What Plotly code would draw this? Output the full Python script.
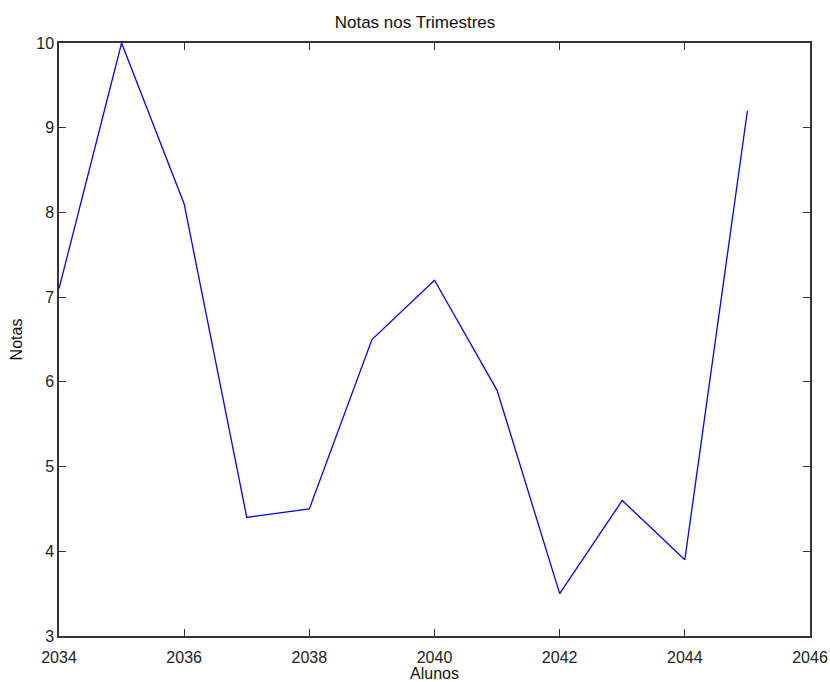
import plotly.graph_objects as go

anos = [2034, 2035, 2036, 2037, 2038, 2039, 2040, 2041, 2042, 2043, 2044, 2045]
notas = [7.1, 10.0, 8.1, 4.4, 4.5, 6.5, 7.2, 5.9, 3.5, 4.6, 3.9, 9.2]

FONT = "Liberation Sans, Arial"

fig = go.Figure()
fig.add_trace(go.Scatter(x=anos, y=notas, mode="lines",
                         line=dict(color="#0000ff", width=1.3)))

axis_common = dict(showgrid=False, zeroline=False, ticks="inside", ticklen=7,
                   tickwidth=1.3, tickcolor="#333", showline=True, linecolor="#333",
                   linewidth=1.5, mirror="ticks", automargin=False,
                   tickfont=dict(family=FONT, size=16, color="#222"))

fig.update_layout(
    width=830, height=682,
    margin=dict(l=59, r=20, t=43, b=46),
    paper_bgcolor="white", plot_bgcolor="white",
    showlegend=False,
    title=dict(text="Notas nos Trimestres", x=0.5, xanchor="center", y=0.968, yanchor="middle",
               font=dict(family=FONT, size=17, color="#111")),
    xaxis=dict(range=[2034, 2046], dtick=2, tick0=2034, ticklabelstandoff=6,
               title=dict(text="Alunos", standoff=5,
                          font=dict(family=FONT, size=16, color="#111")),
               **axis_common),
    yaxis=dict(range=[3, 10], dtick=1,
               title=dict(text="Notas", standoff=10,
                          font=dict(family=FONT, size=16, color="#111")),
               **axis_common),
)
fig.write_html("out.html", config={"displayModeBar": False},
               post_script="document.body.style.margin='0';document.body.style.overflow='hidden';")
